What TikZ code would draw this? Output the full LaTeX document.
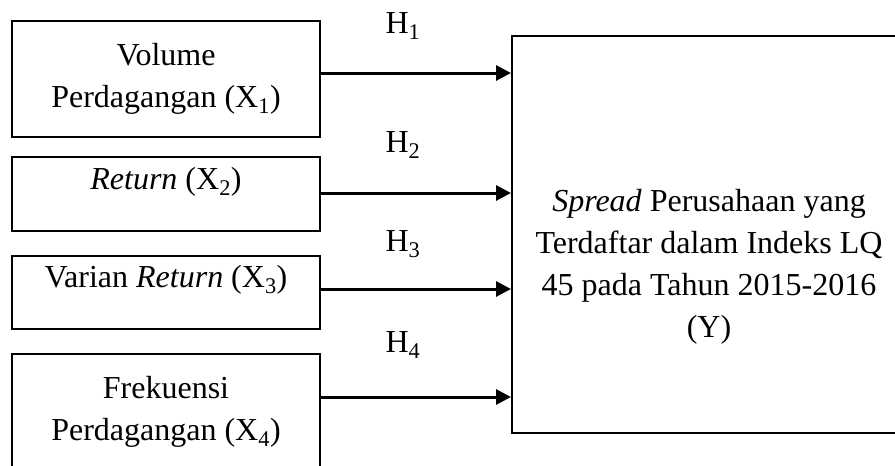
\documentclass[tikz,border=0pt]{standalone}
\usepackage{fontspec}
\setmainfont{Liberation Serif}
\usetikzlibrary{arrows.meta}
\begin{document}
\begin{tikzpicture}[x=1pt,y=-1pt,
  txt/.style={font=\fontsize{32}{42}\selectfont},
  varbox/.style={draw, line width=2pt, txt, align=center, minimum width=308pt, inner sep=0pt},
  arr/.style={line width=3pt, -{Triangle[length=15pt,width=15pt]}},
  hlab/.style={txt, anchor=base, inner sep=0pt}]
\useasboundingbox (0,0) rectangle (895,466);
\clip (0,0) rectangle (895,466);

% independent variables
\node[varbox, minimum height=116pt] (b1) at (166,79) {Volume\\Perdagangan (X\textsubscript{1})};
\node[varbox, minimum height=74pt, text depth=32pt] (b2) at (166,194) {\textit{Return} (X\textsubscript{2})};
\node[varbox, minimum height=73pt, text depth=32pt] (b3) at (166,292.5) {Varian \textit{Return} (X\textsubscript{3})};
\node[varbox, minimum height=116pt] (b4) at (166,412) {Frekuensi\\Perdagangan (X\textsubscript{4})};

% dependent variable
\node[draw, line width=2pt, minimum width=394pt, minimum height=397pt, inner sep=0pt] (y) at (709,234.5) {};
\node[txt, align=center, inner sep=0pt] (ytxt) at (709,267)
  {\textit{Spread} Perusahaan yang\\Terdaftar dalam Indeks LQ\\45 pada Tahun 2015-2016\\(Y)};

% hypotheses
\draw[arr] ([yshift=6pt]b1.east) -- ([yshift=6pt]b1.east -| y.west);
\draw[arr] ([yshift=1pt]b2.east) -- ([yshift=1pt]b2.east -| y.west);
\draw[arr] ([yshift=3.5pt]b3.east) -- ([yshift=3.5pt]b3.east -| y.west);
\draw[arr] ([yshift=15pt]b4.east) -- ([yshift=15pt]b4.east -| y.west);

\node[hlab] (h1) at (403,33) {H\textsubscript{1}};
\node[hlab] (h2) at (403,152) {H\textsubscript{2}};
\node[hlab] (h3) at (403,251) {H\textsubscript{3}};
\node[hlab] (h4) at (403,352) {H\textsubscript{4}};
\end{tikzpicture}
\end{document}
